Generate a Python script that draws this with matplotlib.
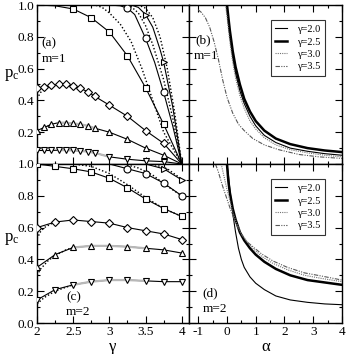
import matplotlib
matplotlib.use("Agg")
import matplotlib.pyplot as plt
from matplotlib.ticker import FixedLocator

plt.rcParams['font.family'] = ['Liberation Serif', 'DejaVu Serif']
plt.rcParams['mathtext.fontset'] = 'custom'
plt.rcParams['mathtext.rm'] = 'Liberation Serif'

# ---------------- panel (a): m=1, p_c vs gamma ----------------
a_sq_line_g = [2.0, 2.25, 2.5, 2.75, 3.0, 3.25, 3.5, 3.75, 4.0]
a_sq_line_p = [1.0, 0.995, 0.975, 0.92, 0.83, 0.68, 0.48, 0.25, 0.0]
a_sq_mk_g = [2.5, 2.75, 3.0, 3.25, 3.5, 3.75]
a_sq_mk_p = [0.975, 0.92, 0.83, 0.68, 0.48, 0.25]
a_sq_dot_g = [2.0, 2.8, 2.9, 3.0, 3.15, 3.3, 3.45, 3.6, 3.75, 4.0]
a_sq_dot_p = [1.0, 1.0, 0.985, 0.95, 0.88, 0.77, 0.6, 0.4, 0.2, 0.0]

a_ci_line_g = [2.0, 3.0, 3.15, 3.25, 3.35, 3.5, 3.625, 3.75, 3.875, 4.0]
a_ci_line_p = [1.0, 1.0, 0.995, 0.98, 0.94, 0.79, 0.64, 0.45, 0.24, 0.0]
a_ci_mk_g = [3.25, 3.5, 3.75]
a_ci_mk_p = [0.98, 0.79, 0.45]
a_ci_dot_g = [2.0, 3.2, 3.3, 3.4, 3.5, 3.6, 3.75, 3.875, 4.0]
a_ci_dot_p = [1.0, 1.0, 0.99, 0.95, 0.87, 0.75, 0.53, 0.29, 0.0]

a_tr_line_g = [2.0, 3.3, 3.4, 3.5, 3.6, 3.7, 3.75, 3.875, 4.0]
a_tr_line_p = [1.0, 1.0, 0.985, 0.94, 0.86, 0.72, 0.64, 0.36, 0.0]
a_tr_mk_g = [3.5, 3.75]
a_tr_mk_p = [0.94, 0.64]
a_tr_dot_g = [2.0, 3.4, 3.5, 3.6, 3.7, 3.8, 3.9, 4.0]
a_tr_dot_p = [1.0, 1.0, 0.98, 0.92, 0.8, 0.6, 0.33, 0.0]

a_di_g = [2.0, 2.1, 2.2, 2.3, 2.4, 2.5, 2.6, 2.7, 2.8, 3.0, 3.25, 3.5, 3.75]
a_di_p = [0.475, 0.485, 0.495, 0.50, 0.50, 0.49, 0.475, 0.455, 0.425, 0.37, 0.30, 0.21, 0.13]
a_di_dot_g = [2.0, 2.05, 2.1, 2.2]
a_di_dot_p = [0.41, 0.45, 0.475, 0.495]

a_up_g = [2.0, 2.1, 2.2, 2.3, 2.4, 2.5, 2.6, 2.7, 2.8, 3.0, 3.25, 3.5, 3.75]
a_up_p = [0.21, 0.23, 0.25, 0.26, 0.26, 0.255, 0.25, 0.24, 0.225, 0.20, 0.155, 0.10, 0.055]
a_up_dot_g = [2.0, 2.05, 2.1, 2.2]
a_up_dot_p = [0.18, 0.205, 0.225, 0.25]

a_dn_g = [2.0, 2.1, 2.2, 2.3, 2.4, 2.5, 2.6, 2.7, 2.8, 3.0, 3.25, 3.5, 3.75]
a_dn_p = [0.085, 0.085, 0.085, 0.087, 0.087, 0.085, 0.082, 0.078, 0.07, 0.045, 0.03, 0.02, 0.015]

# ---------------- panel (c): m=2, p_c vs gamma ----------------
c_sq_g = [2.0, 2.25, 2.5, 2.75, 3.0, 3.25, 3.5, 3.75, 4.0]
c_sq_p = [1.0, 0.985, 0.97, 0.95, 0.91, 0.85, 0.78, 0.72, 0.67]
c_sq_dot_g = [2.0, 2.5, 2.75, 3.0, 3.25, 3.5, 3.75, 4.0]
c_sq_dot_p = [1.0, 1.0, 0.985, 0.94, 0.87, 0.79, 0.72, 0.67]

c_ci_line_g = [2.0, 3.0, 3.25, 3.5, 3.75, 4.0]
c_ci_line_p = [1.0, 1.0, 0.97, 0.94, 0.88, 0.80]
c_ci_mk_g = [3.25, 3.5, 3.75, 4.0]
c_ci_mk_p = [0.97, 0.94, 0.88, 0.80]
c_ci_dot_g = [2.0, 3.2, 3.4, 3.6, 3.8, 4.0]
c_ci_dot_p = [1.0, 1.0, 0.975, 0.93, 0.86, 0.80]

c_tr_line_g = [2.0, 3.5, 3.75, 4.0]
c_tr_line_p = [1.0, 1.0, 0.97, 0.90]
c_tr_mk_g = [3.75, 4.0]
c_tr_mk_p = [0.97, 0.90]
c_tr_dot_g = [2.0, 3.6, 3.8, 4.0]
c_tr_dot_p = [1.0, 1.0, 0.97, 0.905]

c_di_g = [2.0, 2.25, 2.5, 2.75, 3.0, 3.25, 3.5, 3.75, 4.0]
c_di_p = [0.60, 0.635, 0.648, 0.638, 0.628, 0.60, 0.58, 0.56, 0.525]
c_di_dot_g = [2.0, 2.05, 2.1, 2.2, 2.3]
c_di_dot_p = [0.53, 0.575, 0.60, 0.625, 0.64]

c_up_g = [2.0, 2.25, 2.5, 2.75, 3.0, 3.25, 3.5, 3.75, 4.0]
c_up_p = [0.35, 0.43, 0.475, 0.485, 0.485, 0.48, 0.47, 0.46, 0.44]
c_up_dot_g = [2.0, 2.05, 2.15, 2.25, 2.4, 2.5]
c_up_dot_p = [0.30, 0.34, 0.39, 0.425, 0.46, 0.475]

c_dn_g = [2.0, 2.25, 2.5, 2.75, 3.0, 3.25, 3.5, 3.75, 4.0]
c_dn_p = [0.145, 0.21, 0.24, 0.26, 0.27, 0.27, 0.265, 0.26, 0.26]
c_dn_dot_g = [2.0, 2.1, 2.25, 2.4, 2.5]
c_dn_dot_p = [0.12, 0.16, 0.20, 0.225, 0.24]

# ---------------- panel (b): m=1, p_c vs alpha ----------------
legend_labels = ['γ=2.0', 'γ=2.5', 'γ=3.0', 'γ=3.5']
b_al_20 = [-0.02, 0.0, 0.05, 0.1, 0.2, 0.3, 0.45, 0.6, 0.8, 1.0, 1.3, 1.7, 2.2, 2.8, 3.4, 4.0]
b_p_20 = [1.0, 0.97, 0.88, 0.80, 0.67, 0.57, 0.46, 0.38, 0.30, 0.24, 0.18, 0.135, 0.10, 0.08, 0.065, 0.055]
b_al_25 = [0.0, 0.02, 0.05, 0.1, 0.2, 0.3, 0.45, 0.6, 0.8, 1.0, 1.3, 1.7, 2.2, 2.8, 3.4, 4.0]
b_p_25 = [1.0, 0.97, 0.92, 0.84, 0.71, 0.61, 0.50, 0.41, 0.33, 0.27, 0.21, 0.16, 0.125, 0.10, 0.085, 0.075]
b_al_30 = [-0.05, 0.0, 0.05, 0.1, 0.2, 0.3, 0.45, 0.6, 0.8, 1.0, 1.3, 1.7, 2.2, 2.8, 3.4, 4.0]
b_p_30 = [1.0, 0.93, 0.85, 0.77, 0.64, 0.54, 0.43, 0.35, 0.27, 0.22, 0.165, 0.12, 0.09, 0.07, 0.055, 0.045]
b_al_35 = [-1.0, -0.9, -0.75, -0.6, -0.45, -0.3, -0.15, 0.0, 0.2, 0.4, 0.6, 0.9, 1.3, 1.8, 2.5, 3.2, 4.0]
b_p_35 = [0.97, 0.955, 0.92, 0.86, 0.77, 0.66, 0.53, 0.42, 0.32, 0.25, 0.21, 0.16, 0.12, 0.09, 0.06, 0.045, 0.035]

# ---------------- panel (d): m=2, p_c vs alpha ----------------
d_al_20 = [0.0, 0.05, 0.1, 0.2, 0.3, 0.4, 0.5, 0.6, 0.8, 1.0, 1.3, 1.7, 2.2, 2.8, 3.4, 4.0]
d_p_20 = [1.0, 0.93, 0.84, 0.69, 0.57, 0.47, 0.40, 0.35, 0.29, 0.25, 0.21, 0.17, 0.145, 0.13, 0.12, 0.115]
d_al_25 = [0.0, 0.05, 0.1, 0.2, 0.3, 0.45, 0.6, 0.8, 1.0, 1.3, 1.7, 2.2, 2.8, 3.4, 4.0]
d_p_25 = [1.0, 0.89, 0.82, 0.72, 0.65, 0.57, 0.52, 0.47, 0.43, 0.385, 0.34, 0.30, 0.27, 0.255, 0.24]
d_al_30 = [-0.2, -0.1, 0.0, 0.1, 0.2, 0.35, 0.5, 0.7, 0.9, 1.2, 1.6, 2.1, 2.7, 3.3, 4.0]
d_p_30 = [1.0, 0.92, 0.84, 0.77, 0.70, 0.62, 0.56, 0.51, 0.47, 0.42, 0.375, 0.335, 0.30, 0.28, 0.26]
d_al_35 = [-0.4, -0.3, -0.15, 0.0, 0.15, 0.3, 0.5, 0.7, 0.9, 1.2, 1.6, 2.1, 2.7, 3.3, 4.0]
d_p_35 = [1.0, 0.95, 0.86, 0.78, 0.70, 0.63, 0.56, 0.51, 0.48, 0.435, 0.39, 0.35, 0.315, 0.295, 0.27]

fig = plt.figure(figsize=(3.46, 3.54), dpi=100)
L, R, XM = 37/346, 342/346, 189/346
T, B, YM = 1 - 5/354, 1 - 323/354, 1 - 164/354
axA = fig.add_axes([L, YM, XM - L, T - YM])
axB = fig.add_axes([XM, YM, R - XM, T - YM])
axC = fig.add_axes([L, B, XM - L, YM - B])
axD = fig.add_axes([XM, B, R - XM, YM - B])

mk = dict(mfc='white', mec='black', mew=0.8, ms=5, ls='none', zorder=4)
ln = dict(color='black', lw=0.8)
dt = dict(color='black', lw=1.0, ls=(0, (1, 1.5)))
gray = dict(color='0.72', lw=1.6, zorder=2)

# panel a
axA.plot(a_sq_line_g, a_sq_line_p, **ln)
axA.plot(a_sq_mk_g, a_sq_mk_p, marker='s', **mk)
axA.plot(a_sq_dot_g, a_sq_dot_p, **dt)
axA.plot(a_ci_line_g, a_ci_line_p, **ln)
axA.plot(a_ci_mk_g, a_ci_mk_p, marker='o', **mk)
axA.plot(a_ci_dot_g, a_ci_dot_p, **dt)
axA.plot(a_tr_line_g, a_tr_line_p, **ln)
axA.plot(a_tr_mk_g, a_tr_mk_p, marker='>', **mk)
axA.plot(a_tr_dot_g, a_tr_dot_p, **dt)
for g, p, m, dg, dp in [(a_di_g, a_di_p, 'D', a_di_dot_g, a_di_dot_p),
                        (a_up_g, a_up_p, '^', a_up_dot_g, a_up_dot_p),
                        (a_dn_g, a_dn_p, 'v', None, None)]:
    axA.plot(g + [4.0], p + [0.0], **ln)
    axA.plot(g, p, marker=m, **dict(mk, ms=4.5 if m == 'D' else 5))
    if dg is not None:
        axA.plot(dg, dp, **dt)
axA.plot(a_up_g[3:9], a_up_p[3:9], **gray)
axA.plot(a_dn_g[3:10], a_dn_p[3:10], **gray)

# panel c
axC.plot(c_sq_g, c_sq_p, **ln)
axC.plot(c_sq_g, c_sq_p, marker='s', **mk)
axC.plot(c_sq_dot_g, c_sq_dot_p, **dt)
axC.plot(c_ci_line_g, c_ci_line_p, **ln)
axC.plot(c_ci_mk_g, c_ci_mk_p, marker='o', **mk)
axC.plot(c_ci_dot_g, c_ci_dot_p, **dt)
axC.plot(c_tr_line_g, c_tr_line_p, **ln)
axC.plot(c_tr_mk_g, c_tr_mk_p, marker='>', **mk)
axC.plot(c_tr_dot_g, c_tr_dot_p, **dt)
for g, p, m, dg, dp in [(c_di_g, c_di_p, 'D', c_di_dot_g, c_di_dot_p),
                        (c_up_g, c_up_p, '^', c_up_dot_g, c_up_dot_p),
                        (c_dn_g, c_dn_p, 'v', c_dn_dot_g, c_dn_dot_p)]:
    axC.plot(g, p, **ln)
    axC.plot(g, p, marker=m, **dict(mk, ms=4.5 if m == 'D' else 5))
    axC.plot(dg, dp, **dt)
axC.plot(c_up_g[2:7], c_up_p[2:7], **gray)
axC.plot(c_dn_g[2:7], c_dn_p[2:7], **gray)

# panels b and d
styles = [dict(color='black', lw=0.8, ls='-'),
          dict(color='black', lw=1.8, ls='-'),
          dict(color='0.45', lw=0.8, ls=(0, (1, 1))),
          dict(color='0.35', lw=0.8, ls=(0, (4, 1.2, 1, 1.2, 1, 1.2)))]
for ax, curves in [(axB, [(b_al_20, b_p_20), (b_al_25, b_p_25), (b_al_30, b_p_30), (b_al_35, b_p_35)]),
                   (axD, [(d_al_20, d_p_20), (d_al_25, d_p_25), (d_al_30, d_p_30), (d_al_35, d_p_35)])]:
    for (x, y), st, lab in zip(curves, styles, legend_labels):
        ax.plot(x, y, label=lab, **st)
    leg = ax.legend(loc='upper right', bbox_to_anchor=(0.89, 0.905), fontsize=7.5, frameon=True,
                    fancybox=False, edgecolor='black', handlelength=1.1, handletextpad=1.0,
                    borderpad=0.45, labelspacing=0.3, borderaxespad=0.0)
    leg.get_frame().set_linewidth(0.8)

# axes formatting
for ax in (axA, axC):
    ax.set_xlim(2.0, 4.1)
    ax.xaxis.set_major_locator(FixedLocator([2.0, 2.5, 3.0, 3.5, 4.0]))
    ax.xaxis.set_minor_locator(FixedLocator([2.25, 2.75, 3.25, 3.75]))
for ax in (axB, axD):
    ax.set_xlim(-1.32, 4.0)
    ax.xaxis.set_major_locator(FixedLocator([-1, 0, 1, 2, 3, 4]))
    ax.xaxis.set_minor_locator(FixedLocator([-0.5, 0.5, 1.5, 2.5, 3.5]))
for ax in (axA, axB, axC, axD):
    ax.set_ylim(0.0, 1.0)
    ax.yaxis.set_major_locator(FixedLocator([0.0, 0.2, 0.4, 0.6, 0.8, 1.0]))
    ax.yaxis.set_minor_locator(FixedLocator([0.1, 0.3, 0.5, 0.7, 0.9]))
    ax.tick_params(which='both', direction='in', top=True, right=True, width=0.8, labelsize=9.5, pad=2)
    ax.tick_params(which='major', length=5)
    ax.tick_params(which='minor', length=2.5)
    for s in ax.spines.values():
        s.set_linewidth(1.0)

axA.tick_params(labelbottom=False)
axB.tick_params(labelbottom=False, labelleft=False)
axD.tick_params(labelleft=False)
axA.set_yticks([0.2, 0.4, 0.6, 0.8, 1.0])
axA.set_yticklabels(['0.2', '0.4', '0.6', '0.8', '1.0'])
axC.set_yticklabels(['0.0', '0.2', '0.4', '0.6', '0.8', '1.0'])
axC.set_xticklabels(['2', '2.5', '3', '3.5', '4'])
axD.set_xticklabels(['-1', '0', '1', '2', '3', '4'])

axA.set_ylabel(r'$\mathregular{p_c}$', fontsize=12, rotation=0, va='center', ha='center')
axC.set_ylabel(r'$\mathregular{p_c}$', fontsize=12, rotation=0, va='center', ha='center')
axA.yaxis.set_label_coords(-0.165, 0.56)
axC.yaxis.set_label_coords(-0.165, 0.53)
axC.set_xlabel('γ', fontsize=12, labelpad=1)
axD.set_xlabel('α', fontsize=12, labelpad=1)

fs = 9.5
axA.text(0.03, 0.74, '(a)', transform=axA.transAxes, fontsize=fs)
axA.text(0.03, 0.64, 'm=1', transform=axA.transAxes, fontsize=fs)
axB.text(0.04, 0.76, '(b)', transform=axB.transAxes, fontsize=fs)
axB.text(0.03, 0.66, 'm=1', transform=axB.transAxes, fontsize=fs)
axC.text(0.19, 0.14, '(c)', transform=axC.transAxes, fontsize=fs)
axC.text(0.19, 0.05, 'm=2', transform=axC.transAxes, fontsize=fs)
axD.text(0.09, 0.17, '(d)', transform=axD.transAxes, fontsize=fs)
axD.text(0.09, 0.07, 'm=2', transform=axD.transAxes, fontsize=fs)

fig.savefig('out.png', dpi=100)
